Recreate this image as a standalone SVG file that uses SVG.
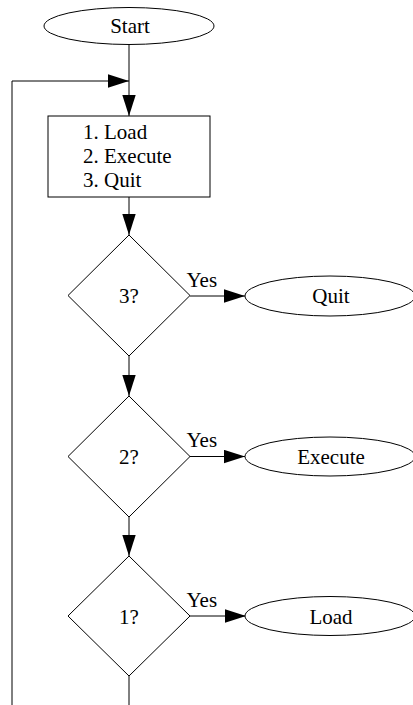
<svg xmlns="http://www.w3.org/2000/svg" width="413" height="705" viewBox="0 0 413 705" font-family="'Liberation Serif', 'DejaVu Serif', serif">
  <style>
    .shape { fill: #fff; stroke: #000; stroke-width: 1; }
    .edge { fill: none; stroke: #000; stroke-width: 1; }
    text { font-family: 'Liberation Serif', 'DejaVu Serif', serif; font-size: 21px; fill: #000; }
    .c { text-anchor: middle; }
  </style>
  <defs>
    <marker id="arrow" markerUnits="userSpaceOnUse" markerWidth="22" markerHeight="14" refX="21" refY="6.7" orient="auto">
      <path d="M0,0 L21,6.7 L0,13.4 Z" fill="#000"/>
    </marker>
  </defs>
  <rect width="413" height="705" fill="#fff"/>

  <g id="connectors">
    <path class="edge" d="M129,44.5 V116" marker-end="url(#arrow)"/>
    <path class="edge" d="M12,705 V81 H129" marker-end="url(#arrow)"/>
    <path class="edge" d="M129,197 V235" marker-end="url(#arrow)"/>
    <path class="edge" d="M190,296 H245" marker-end="url(#arrow)"/>
    <path class="edge" d="M129,356 V396" marker-end="url(#arrow)"/>
    <path class="edge" d="M190,456.5 H245" marker-end="url(#arrow)"/>
    <path class="edge" d="M129,517 V556" marker-end="url(#arrow)"/>
    <path class="edge" d="M190,616 H246" marker-end="url(#arrow)"/>
    <path class="edge" d="M129,676 V705"/>
    <text x="186.5" y="287">Yes</text>
    <text x="186.5" y="447">Yes</text>
    <text x="186.5" y="607">Yes</text>
  </g>

  <g id="start">
    <ellipse class="shape" cx="129" cy="26" rx="85" ry="18.5"/>
    <text class="c" x="130" y="33">Start</text>
  </g>

  <g id="menu">
    <rect class="shape" x="48" y="116" width="162" height="81"/>
    <text x="83" y="139">1. Load</text>
    <text x="83" y="163">2. Execute</text>
    <text x="83" y="186.5">3. Quit</text>
  </g>

  <g id="check3">
    <polygon class="shape" points="129,235 190,295.5 129,356 68,295.5"/>
    <text class="c" x="129" y="303">3?</text>
  </g>

  <g id="quit">
    <ellipse class="shape" cx="330" cy="296" rx="85" ry="20"/>
    <text class="c" x="331" y="303">Quit</text>
  </g>

  <g id="check2">
    <polygon class="shape" points="129,396 190,456.5 129,517 68,456.5"/>
    <text class="c" x="129" y="464">2?</text>
  </g>

  <g id="execute">
    <ellipse class="shape" cx="330" cy="456.5" rx="85" ry="19.5"/>
    <text class="c" x="331" y="464">Execute</text>
  </g>

  <g id="check1">
    <polygon class="shape" points="129,556 190,616 129,676 68,616"/>
    <text class="c" x="129" y="623.5">1?</text>
  </g>

  <g id="load">
    <ellipse class="shape" cx="330" cy="616" rx="85" ry="19.5"/>
    <text class="c" x="331" y="623.5">Load</text>
  </g>
</svg>
